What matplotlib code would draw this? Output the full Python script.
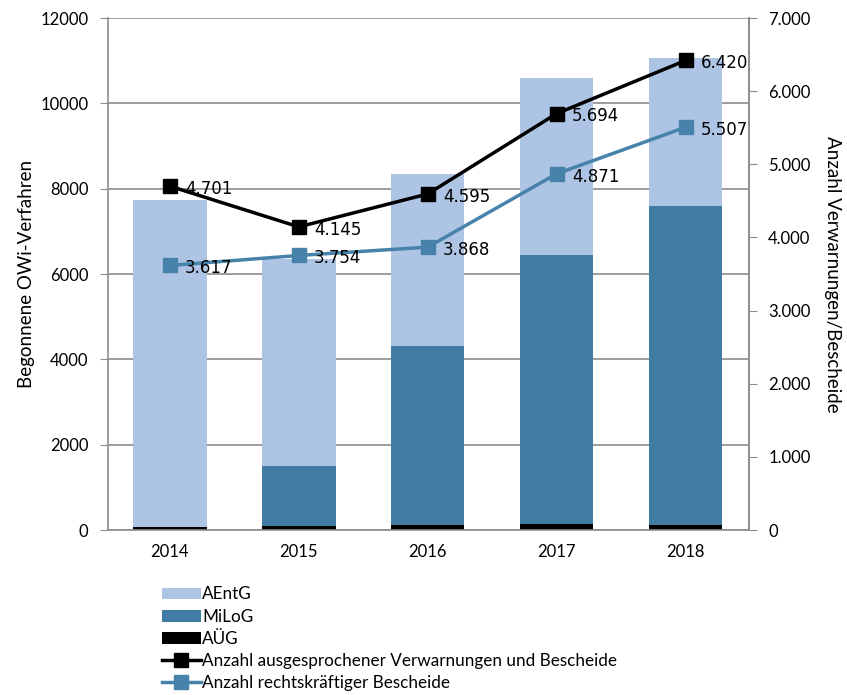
import matplotlib.pyplot as plt
import numpy as np
from matplotlib.ticker import FuncFormatter

plt.rcParams['font.family'] = ['Lato', 'DejaVu Sans']

years = ['2014', '2015', '2016', '2017', '2018']
auueg = [60, 90, 110, 140, 110]
milog = [0, 1410, 4200, 6300, 7480]
aentg = [7670, 4850, 4030, 4150, 3470]
verwarnungen = [4701, 4145, 4595, 5694, 6420]
bescheide = [3617, 3754, 3868, 4871, 5507]

c_light = '#AEC4E4'
c_dark = '#417DA3'
c_line = '#4682AA'
grid_c = '#8C8C8C'

fig = plt.figure(figsize=(8.47, 6.95), dpi=100)
ax = fig.add_axes([0.1275, 0.2374, 0.7565, 0.7366])
x = np.arange(len(years))
w = 0.57

b1 = ax.bar(x, auueg, w, color='black', label='AÜG', zorder=2)
b2 = ax.bar(x, milog, w, bottom=auueg, color=c_dark, label='MiLoG', zorder=2)
bottom2 = np.array(auueg) + np.array(milog)
b3 = ax.bar(x, aentg, w, bottom=bottom2, color=c_light, label='AEntG', zorder=2)

ax.set_ylim(0, 12000)
ax.set_xlim(-0.48, 4.49)
ax.set_yticks(range(0, 12001, 2000))
ax.set_xticks(x)
ax.set_xticklabels(years)
ax.yaxis.grid(True, color=grid_c, linewidth=1.2, zorder=0)
ax.set_axisbelow(True)
ax.set_ylabel('Begonnene OWi-Verfahren', fontsize=13.5)
ax.spines['top'].set_visible(False)
for s in ['left', 'right', 'bottom']:
    ax.spines[s].set_color(grid_c)
    ax.spines[s].set_linewidth(1.2)
ax.tick_params(axis='y', length=6, color=grid_c, labelsize=12, pad=8)
ax.tick_params(axis='x', length=0, labelsize=12, pad=10)

ax2 = ax.twinx()
ax2.set_ylim(0, 7000)
ax2.set_yticks(range(0, 7001, 1000))
ax2.yaxis.set_major_formatter(FuncFormatter(lambda v, p: f'{int(v):,}'.replace(',', '.')))
for s in ['top', 'left', 'bottom']:
    ax2.spines[s].set_visible(False)
ax2.spines['right'].set_color(grid_c)
ax2.spines['right'].set_linewidth(1.2)
ax2.tick_params(axis='y', length=6, color=grid_c, labelsize=12, pad=8)
ax2.set_ylabel('Anzahl Verwarnungen/Bescheide', fontsize=13.5, rotation=270, labelpad=22)

l1, = ax2.plot(x, verwarnungen, color='black', linewidth=2.5, marker='s', markersize=10,
               label='Anzahl ausgesprochener Verwarnungen und Bescheide', zorder=3)
l2, = ax2.plot(x, bescheide, color=c_line, linewidth=2.5, marker='s', markersize=10,
               label='Anzahl rechtskräftiger Bescheide', zorder=3)

fmt = lambda v: f'{v:,}'.replace(',', '.')
for series in (verwarnungen, bescheide):
    for xi, v in zip(x, series):
        ax2.annotate(fmt(v), (xi, v), xytext=(11, -2), textcoords='offset points',
                     ha='left', va='center', fontsize=12, family='DejaVu Sans')

fig.legend([b3, b2, b1, l1, l2],
           ['AEntG', 'MiLoG', 'AÜG',
            'Anzahl ausgesprochener Verwarnungen und Bescheide',
            'Anzahl rechtskräftiger Bescheide'],
           loc='upper left', bbox_to_anchor=(0.183, 0.166), frameon=False,
           fontsize=12.3, handlelength=2.3, handletextpad=0.05, labelspacing=0.36,
           borderaxespad=0)

fig.savefig('out.png', dpi=100)
